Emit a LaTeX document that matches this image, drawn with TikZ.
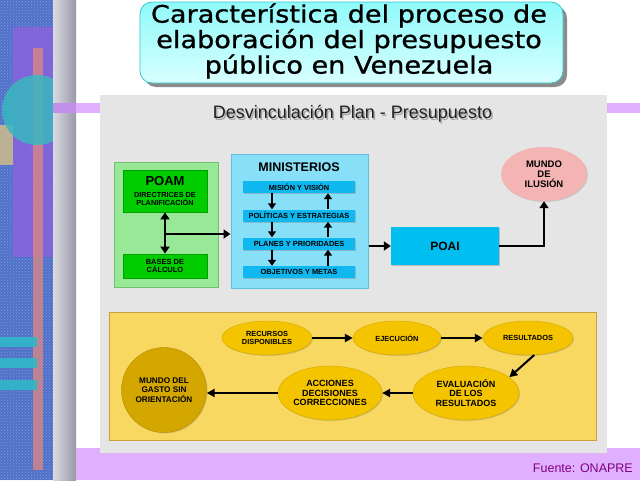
\documentclass[tikz,border=0pt]{standalone}
\usepackage{fontspec}
\setmainfont{Liberation Sans}
\newfontfamily\titlefont[FakeStretch=1.13,FakeBold=1]{DejaVu Sans}
\usetikzlibrary{shapes.geometric,arrows.meta,patterns,shadows}
\definecolor{panelgray}{HTML}{E5E5E5}
\definecolor{lgreen}{HTML}{98E898}
\definecolor{lgreenb}{HTML}{70C070}
\definecolor{bgreen}{HTML}{00CC00}
\definecolor{bgreenb}{HTML}{00A000}
\definecolor{skyb}{HTML}{88E0F8}
\definecolor{skybb}{HTML}{60C0E0}
\definecolor{barblue}{HTML}{10B8F0}
\definecolor{poaiblue}{HTML}{00BFF0}
\definecolor{pinkell}{HTML}{F4B4B4}
\definecolor{ybox}{HTML}{F8D860}
\definecolor{yboxb}{HTML}{C8A040}
\definecolor{yell}{HTML}{F5C400}
\definecolor{gold}{HTML}{D4A600}
\definecolor{lpurple}{HTML}{E0B0FF}
\definecolor{mpurple}{HTML}{C090E8}
\definecolor{fuente}{HTML}{800080}
\definecolor{texblue}{HTML}{5070C8}
\definecolor{texlight}{HTML}{A0B8F0}
\definecolor{decpurple}{HTML}{9060E0}
\definecolor{dectan}{HTML}{C8B890}
\definecolor{decsalmon}{HTML}{E08880}
\definecolor{deccyan}{HTML}{38B8C0}
\definecolor{deccyanb}{HTML}{30B8C8}
\definecolor{stripl}{HTML}{DADAE2}
\definecolor{stripd}{HTML}{9898A8}
\definecolor{tshadow}{HTML}{8C8C8C}
\definecolor{ttop}{HTML}{90FAFA}
\definecolor{tbot}{HTML}{D8FFFF}
\definecolor{tborder}{HTML}{30C8C8}
\definecolor{subtext}{HTML}{202020}
\tikzset{
  arr/.style={line width=2.5pt,-{Triangle[length=7pt,width=9pt]}},
  darr/.style={line width=2.5pt,{Triangle[length=7pt,width=9pt]}-{Triangle[length=7pt,width=9pt]}},
  sarr/.style={line width=2.2pt,-{Triangle[length=6pt,width=8pt]}},
  barr/.style={line width=2pt,-{Triangle[length=8pt,width=8pt]}},
  outerg/.style={draw=lgreenb,line width=1pt,fill=lgreen,minimum width=104pt,minimum height=125pt,inner sep=0pt},
  innerg/.style={draw=bgreenb,line width=0.8pt,fill=bgreen,minimum width=84pt,inner sep=0pt,align=center,drop shadow={shadow xshift=1pt,shadow yshift=-1pt,opacity=0.4}},
  minbox/.style={draw=skybb,line width=1pt,fill=skyb,minimum width=137pt,minimum height=134pt,inner sep=0pt},
  barbox/.style={fill=barblue,minimum width=112pt,minimum height=12pt,inner sep=0pt,font=\fontsize{7.4}{8}\selectfont\bfseries,drop shadow={shadow xshift=1pt,shadow yshift=-1pt,opacity=0.4}},
  yel/.style={ellipse,fill=yell,draw=yell!85!black,line width=0.4pt,inner sep=0pt,align=center,drop shadow={shadow xshift=1pt,shadow yshift=-1pt,opacity=0.3}},
}
\begin{document}
\begin{tikzpicture}[x=1pt,y=-1pt]
\useasboundingbox (0,0) rectangle (640,480);
% left decoration
\fill[texblue] (0,0) rectangle (53,480);
\fill[pattern=crosshatch dots,pattern color=texlight,opacity=0.6] (0,0) rectangle (53,480);
\fill[decpurple,opacity=0.75] (13,27) rectangle (53,257);
\fill[dectan,opacity=0.9] (0,125) rectangle (13,165);
\fill[decsalmon,opacity=0.75] (33,48) rectangle (43,470);
\begin{scope}
\clip (0,0) rectangle (53,480);
\fill[deccyan,opacity=0.85] (37,110) circle (35);
\end{scope}
\fill[deccyanb,opacity=0.9] (0,337) rectangle (37,347);
\fill[deccyanb,opacity=0.9] (0,358) rectangle (37,368);
\fill[deccyanb,opacity=0.9] (0,380) rectangle (37,390);
\shade[left color=stripl,right color=stripd] (53,0) rectangle (76,480);
% purple bands
\fill[lpurple] (76,448) rectangle (640,480);
\fill[lpurple] (76,103) rectangle (100,113);
\fill[mpurple] (53,103) rectangle (76,113);
\fill[lpurple] (607,103) rectangle (640,113);
% gray panel
\fill[panelgray] (100,95) rectangle (607,453);
% title
\fill[tshadow,rounded corners=12pt] (144,6) rectangle (567,87);
\shade[top color=ttop,bottom color=tbot,draw=tborder,rounded corners=12pt,line width=0.8pt] (140,2) rectangle (563,83);
\node[font=\titlefont\fontsize{24}{25.5}\selectfont,align=center,inner sep=0pt] (title) at (349,41) {Característica del proceso de\\elaboración del presupuesto\\público en Venezuela};
% subtitle
\node[font=\fontsize{18}{19}\selectfont,text=gray!70,inner sep=0pt] at (354,115.5) {Desvinculación Plan - Presupuesto};
\node[font=\fontsize{18}{19}\selectfont,text=subtext,inner sep=0pt] (sub) at (352.5,114) {Desvinculación Plan - Presupuesto};
% POAM
\node[outerg] (poamout) at (166,224.5) {};
\node[innerg,minimum height=42pt] (poam) at (165,191) {};
\node[font=\fontsize{13}{14}\selectfont\bfseries] at (165,181) {POAM};
\node[font=\fontsize{7.3}{8.5}\selectfont\bfseries,align=center,inner sep=0pt] at (165,199) {DIRECTRICES DE\\PLANIFICACIÓN};
\node[innerg,minimum height=24pt,font=\fontsize{7.5}{8.5}\selectfont\bfseries] (bases) at (165,266) {BASES DE\\CÁLCULO};
\coordinate (j) at (165,234);
\draw[darr] (poam.south) -- (bases.north);
% Ministerios
\node[minbox] (min) at (299.5,221) {};
\node[font=\fontsize{12.5}{13}\selectfont\bfseries] at (299,167) {MINISTERIOS};
\node[barbox] (m1) at (299,187) {MISIÓN Y VISIÓN};
\node[barbox] (m2) at (299,215.5) {POLÍTICAS Y ESTRATEGIAS};
\node[barbox] (m3) at (299,243.5) {PLANES Y PRIORIDADES};
\node[barbox] (m4) at (299,272) {OBJETIVOS Y METAS};
\draw[arr] (j) -- (j -| min.west);
\foreach \a/\b in {m1/m2,m2/m3,m3/m4}{
  \draw[sarr] ([xshift=-27pt]\a.south) -- ([xshift=-27pt]\b.north);
  \draw[sarr] ([xshift=29pt]\b.north) -- ([xshift=29pt]\a.south);
}
% POAI
\node[fill=poaiblue,minimum width=108pt,minimum height=38pt,inner sep=0pt,font=\fontsize{12}{13}\selectfont\bfseries,drop shadow={shadow xshift=1pt,shadow yshift=-1pt,opacity=0.4}] (poai) at (445,246) {POAI};
\draw[arr] (poai.west -| min.east) -- (poai.west);
\node[ellipse,fill=pinkell,minimum width=86pt,minimum height=54pt,inner sep=0pt,align=center,font=\fontsize{9.5}{10}\selectfont\bfseries,drop shadow={shadow xshift=1pt,shadow yshift=-1pt,opacity=0.3}] (ilu) at (544,174) {MUNDO\\DE\\ILUSIÓN};
\draw[arr] (poai.east) -| (ilu.south);
% bottom
\node[fill=ybox,draw=yboxb,line width=0.8pt,minimum width=487pt,minimum height=128pt,inner sep=0pt] (ybox) at (352.5,376) {};
\node[yel,minimum width=90pt,minimum height=34pt,font=\fontsize{7.4}{8.5}\selectfont\bfseries] (rec) at (267,338) {RECURSOS\\DISPONIBLES};
\node[yel,minimum width=88pt,minimum height=34pt,font=\fontsize{7.4}{8.5}\selectfont\bfseries] (eje) at (397,338) {EJECUCIÓN};
\node[yel,minimum width=90pt,minimum height=34pt,font=\fontsize{7.4}{8.5}\selectfont\bfseries] (res) at (528,338) {RESULTADOS};
\node[yel,minimum width=106pt,minimum height=54pt,font=\fontsize{9}{9.5}\selectfont\bfseries] (eva) at (466,393) {EVALUACIÓN\\DE LOS\\RESULTADOS};
\node[yel,minimum width=100pt,minimum height=54pt,font=\fontsize{9}{9.5}\selectfont\bfseries] (acc) at (330,393) {ACCIONES\\DECISIONES\\CORRECCIONES};
\node[circle,fill=gold,draw=gold!85!black,line width=0.4pt,minimum size=85pt,inner sep=0pt,align=center,font=\fontsize{8.2}{9.5}\selectfont\bfseries,drop shadow={shadow xshift=1pt,shadow yshift=-1pt,opacity=0.3}] (mundo) at (164,390) {MUNDO DEL\\GASTO SIN\\ORIENTACIÓN};
\draw[barr] (rec.east) -- (eje.west);
\draw[barr] (eje.east) -- (res.west);
\draw[barr] (res.-70) -- (eva.20);
\draw[barr] (eva.west) -- (acc.east);
\draw[barr] (acc.west) -- (acc.west -| mundo.east);
% source
\node[font=\fontsize{12.5}{13}\selectfont,text=fuente,anchor=east,inner sep=0pt] (src) at (633,468) {Fuente: ONAPRE};
\end{tikzpicture}
\end{document}
